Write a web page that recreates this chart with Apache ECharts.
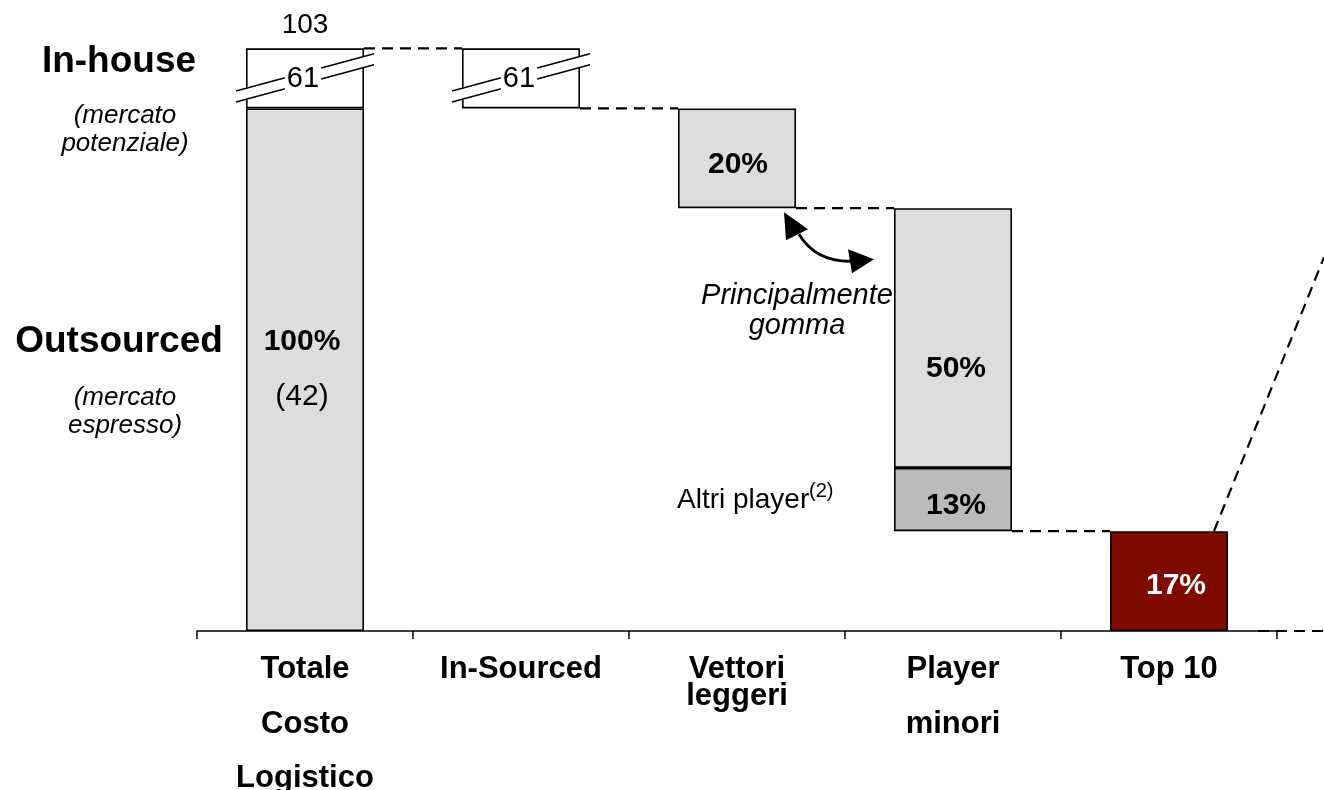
<!DOCTYPE html>
<html>
<head>
<meta charset="utf-8">
<title>Costo logistico</title>
<script src="https://cdn.jsdelivr.net/npm/echarts@6/dist/echarts.min.js"></script>
<style>
	html, body { margin: 0; padding: 0; background: #fff; }
	#myCharts { width: 1324px; height: 790px; }
</style>
</head>
<body>
<div id="myCharts"></div>
<script>
	// categories (blank lines reproduce the wide spacing of the original labels)
	var categories = ['Totale\n\nCosto\n\nLogistico', 'In-Sourced', 'Vettori\nleggeri', 'Player\n\nminori', 'Top 10'];

	// drawn heights, in % of the outsourced market, as measured on the picture
	var outsourced = 100;
	var inHouseDrawn = 11.5;   // broken box, real value below
	var vettoriLeggeri = 19.1;
	var playerMinori = 49.7;
	var altriPlayer = 12.1;
	var top10 = 19.1;

	// printed values
	var shareLabels = ['100%', '', '20%', '13%', '17%'];
	var minoriLabel = '50%';
	var totalValue = '103';
	var inHouseValue = '61';
	var outsourcedValue = '(42)';

	var FONT = '"Liberation Sans", Arial, Helvetica, sans-serif';
	var GRAY = '#dddddd', DARK = '#bbbbbb', RED = '#7f0b00';

	var vettoriBase = top10 + altriPlayer + playerMinori;
	var baseData = [0, outsourced, vettoriBase, top10, 0];
	var lowerVals = [outsourced, inHouseDrawn, vettoriLeggeri, altriPlayer, top10];
	var lowerColors = [GRAY, '#fff', GRAY, DARK, RED];
	var upperVals = [inHouseDrawn, '-', '-', playerMinori, '-'];

	var lowerData = lowerVals.map(function (v, i) {
		var item = { value: v, itemStyle: { color: lowerColors[i] } };
		if (i === 0) {
			item.label = {
				show: true,
				formatter: '{b|' + shareLabels[0] + '}\n{n|' + outsourcedValue + '}',
				offset: [-3, 0],
				rich: {
					b: { fontSize: 30, fontWeight: 'bold', fontFamily: FONT, color: '#000', lineHeight: 55 },
					n: { fontSize: 30, fontFamily: FONT, color: '#000', lineHeight: 55 }
				}
			};
		} else if (shareLabels[i]) {
			item.label = {
				show: true,
				formatter: shareLabels[i],
				fontSize: 30, fontWeight: 'bold', fontFamily: FONT,
				color: i === 4 ? '#fff' : '#000',
				offset: i === 4 ? [7, 5] : (i === 3 ? [3, 6] : [1, 6])
			};
		}
		return item;
	});

	var upperData = upperVals.map(function (v, i) {
		if (v === '-') return '-';
		var item = { value: v, itemStyle: { color: i === 0 ? '#fff' : GRAY } };
		if (i === 0) {
			item.label = {
				show: true, position: 'top', distance: 9,
				formatter: totalValue,
				fontSize: 28, fontFamily: FONT, color: '#000'
			};
		} else {
			item.label = {
				show: true, formatter: minoriLabel,
				fontSize: 30, fontWeight: 'bold', fontFamily: FONT, color: '#000',
				offset: [3, 31]
			};
		}
		return item;
	});

	var barStyle = { borderColor: '#000', borderWidth: 1.6 };

	var option = {
		animation: false,
		backgroundColor: '#fff',
		grid: { left: 197, right: 47, top: 30, bottom: 159, containLabel: false, outerBoundsMode: 'none' },
		xAxis: {
			type: 'category',
			data: categories,
			axisLine: { lineStyle: { color: '#000', width: 1.5 } },
			axisTick: { show: true, length: 8, lineStyle: { color: '#000', width: 1.5 } },
			axisLabel: {
				interval: 0, margin: 25,
				fontSize: 31, fontWeight: 'bold', fontFamily: FONT,
				color: '#000', lineHeight: 27.3
			}
		},
		yAxis: { type: 'value', min: 0, max: 115, show: false },
		series: [
			{ type: 'bar', stack: 'w', barWidth: 118, data: baseData,
				itemStyle: { color: 'transparent', borderWidth: 0 }, silent: true },
			{ type: 'bar', stack: 'w', barWidth: 118, data: lowerData, itemStyle: barStyle },
			{ type: 'bar', stack: 'w', barWidth: 118, data: upperData, itemStyle: barStyle }
		]
	};

	var chart = echarts.init(document.getElementById('myCharts'));
	chart.setOption(option);

	function px(i, v) { return chart.convertToPixel({ gridIndex: 0 }, [i, v]); }
	var half = 59;
	var W = chart.getWidth();
	var g = [];

	function dash(x1, y1, x2, y2) {
		g.push({ type: 'line', z: 5, shape: { x1: x1, y1: y1, x2: x2, y2: y2 },
			style: { stroke: '#000', lineWidth: 2.2, lineDash: [11, 7] } });
	}

	// connectors of the waterfall
	var levels = [outsourced + inHouseDrawn, outsourced, vettoriBase, top10];
	levels.forEach(function (lv, i) {
		var a = px(i, lv), b = px(i + 1, lv);
		dash(a[0] + half, a[1], b[0] - half, b[1]);
	});

	// lines out to the (cropped) detail on the right
	var t = px(4, top10);
	dash(t[0] + 45, t[1], W, t[1] - 2.49 * (W - t[0] - 45));
	var z0 = px(4, 0);
	dash(z0[0] + half + 30, z0[1], W, z0[1]);

	// axis breaks on the in-house boxes
	[0, 1].forEach(function (i) {
		var c = px(i, outsourced + inHouseDrawn / 2);
		var xc = c[0], yc = c[1];
		var xl = xc - half - 10, xr = xc + half + 10;
		function f(x, off) { return yc + off - 0.27 * (x - xc); }
		g.push({ type: 'polygon', z: 6, shape: { points: [[xl, f(xl, -6)], [xr, f(xr, -6)], [xr, f(xr, 5)], [xl, f(xl, 5)]] },
			style: { fill: '#fff' } });
		[-6, 5].forEach(function (off) {
			g.push({ type: 'line', z: 7, shape: { x1: xl, y1: f(xl, off), x2: xr, y2: f(xr, off) },
				style: { stroke: '#000', lineWidth: 1.6 } });
		});
		g.push({ type: 'text', z: 8, x: xc - 2, y: yc + 1,
			style: { text: inHouseValue, fontSize: 29, fontFamily: FONT, fill: '#000',
				align: 'center', verticalAlign: 'middle', backgroundColor: '#fff', padding: [0, 2] } });
	});

	// double arrow between vettori and player minori
	var k = px(2, vettoriBase);
	var cx = k[0] + half, cy = k[1];
	g.push({ type: 'bezierCurve', z: 6,
		shape: { x1: cx + 3, y1: cy + 26, cpx1: cx + 20, cpy1: cy + 54, x2: cx + 56, y2: cy + 53 },
		style: { stroke: '#000', lineWidth: 2.8, fill: null } });
	g.push({ type: 'polygon', z: 6, shape: { points: [[cx - 12, cy + 4], [cx - 10, cy + 32], [cx + 12, cy + 21]] },
		style: { fill: '#000' } });
	g.push({ type: 'polygon', z: 6, shape: { points: [[cx + 78, cy + 51], [cx + 52, cy + 41], [cx + 56, cy + 65]] },
		style: { fill: '#000' } });
	g.push({ type: 'text', z: 6, x: cx + 1, y: cy + 103,
		style: { text: 'Principalmente\ngomma', fontSize: 29, fontStyle: 'italic', fontFamily: FONT,
			fill: '#000', align: 'center', verticalAlign: 'middle', lineHeight: 30 } });

	// altri player note
	var m = px(3, top10 + altriPlayer / 2);
	g.push({ type: 'text', z: 6, x: m[0] - half - 217, y: m[1] + 1,
		style: { text: 'Altri player', fontSize: 28, fontFamily: FONT, fill: '#000',
			align: 'left', verticalAlign: 'middle' } });
	g.push({ type: 'text', z: 6, x: m[0] - half - 85, y: m[1] - 8,
		style: { text: '(2)', fontSize: 20, fontFamily: FONT, fill: '#000',
			align: 'left', verticalAlign: 'middle' } });

	// row titles on the left
	var rowTitles = [
		{ text: 'In-house', y: 62, bold: true },
		{ text: '(mercato\npotenziale)', y: 130, bold: false },
		{ text: 'Outsourced', y: 342, bold: true },
		{ text: '(mercato\nespresso)', y: 412, bold: false }
	];
	rowTitles.forEach(function (r) {
		g.push({ type: 'text', z: 6, x: r.bold ? 119 : 125, y: r.y,
			style: { text: r.text, fontSize: r.bold ? 37 : 26, fontWeight: r.bold ? 'bold' : 'normal',
				fontStyle: r.bold ? 'normal' : 'italic', fontFamily: FONT, fill: '#000',
				align: 'center', verticalAlign: 'middle', lineHeight: 28 } });
	});

	chart.setOption({ graphic: { elements: g } });
	window.onresize = chart.resize;
</script>
</body>
</html>
